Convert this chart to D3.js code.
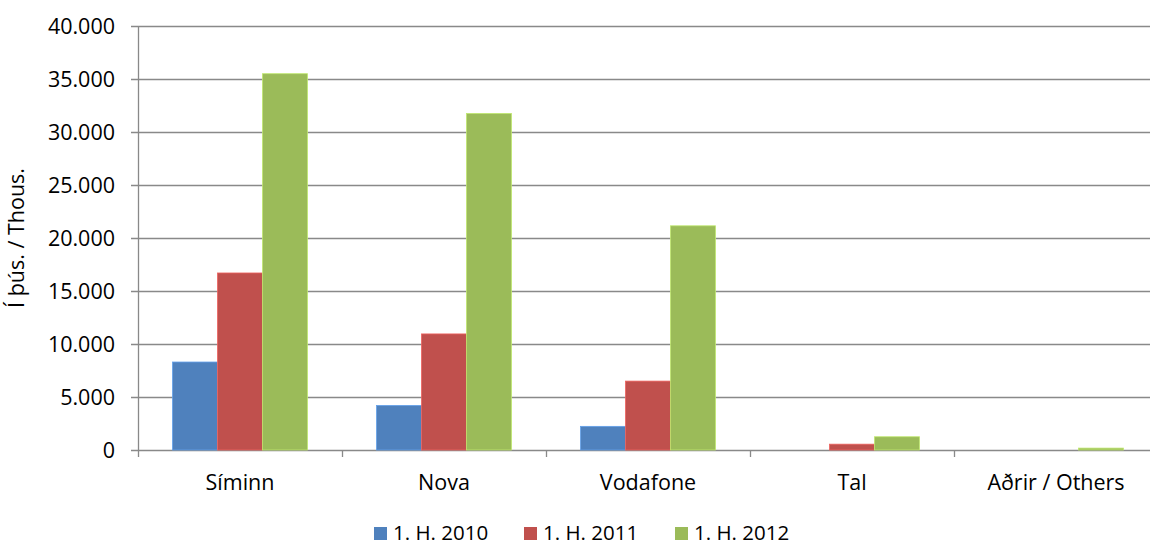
<!DOCTYPE html>
<html>
<head>
<meta charset="utf-8">
<script src="https://cdn.jsdelivr.net/npm/d3@7"></script>
<style>
  body { margin: 0; background: #fff; }
  text { font-family: "Open Sans", "Noto Sans", sans-serif; fill: #000; }
</style>
</head>
<body>
<div id="chart"></div>
<script>
const categories = ['Síminn', 'Nova', 'Vodafone', 'Tal', 'Aðrir / Others'];
const seriesNames = ['1. H. 2010', '1. H. 2011', '1. H. 2012'];
const values2010 = [8300, 4200, 2230, 0, 0];
const values2011 = [16700, 10950, 6500, 550, 0];
const values2012 = [35500, 31750, 21150, 1250, 180];
const yTicks = [0, 5000, 10000, 15000, 20000, 25000, 30000, 35000, 40000];
const colors = ['#4F81BD', '#C0504D', '#9BBB59'];

const W = 1150, H = 546;
const margins = {left: 138, top: 26, right: -8, bottom: 96};
const w = W - margins.left - margins.right;
const h = H - margins.top - margins.bottom;
const fontSize = '21.5px';

const allSeries = [values2010, values2011, values2012];

const svg = d3.select('#chart').append('svg')
  .attr('width', W)
  .attr('height', H);

const g = svg.append('g')
  .attr('transform', 'translate(' + margins.left + ',' + margins.top + ')');

//** scales
const x = d3.scaleBand().domain(categories).range([0, w]).padding(0);
const xs = d3.scaleBand().domain(seriesNames).range([0, x.bandwidth()])
  .paddingInner(0).paddingOuter(0.767);
const y = d3.scaleLinear().domain([0, 40000]).range([h, 0]);

const fmt = d => d3.format(',')(d).replace(/,/g, '.');

//** grid
g.append('g')
  .selectAll('line')
  .data(yTicks)
  .join('line')
  .attr('x1', -7)
  .attr('x2', w)
  .attr('y1', d => y(d) + 0.5)
  .attr('y2', d => y(d) + 0.5)
  .attr('stroke', '#898989')
  .attr('stroke-width', 1.3);

//** y tick labels
g.append('g')
  .selectAll('text')
  .data(yTicks)
  .join('text')
  .attr('x', -23)
  .attr('y', d => y(d))
  .attr('dy', '0.35em')
  .attr('text-anchor', 'end')
  .style('font-size', fontSize)
  .text(fmt);

//** bars
const groups = g.append('g')
  .selectAll('g')
  .data(categories)
  .join('g')
  .attr('transform', d => 'translate(' + x(d) + ',0)');

groups.selectAll('rect')
  .data((c, ci) => seriesNames.map((s, si) => ({s: s, si: si, v: allSeries[si][ci]})))
  .join('rect')
  .attr('x', d => xs(d.s))
  .attr('width', xs.bandwidth())
  .attr('y', d => y(d.v))
  .attr('height', d => h - y(d.v))
  .attr('fill', d => colors[d.si])
  .attr('stroke', d => d3.color(colors[d.si]).brighter(0.6))
  .attr('stroke-width', d => d.v > 0 ? 0.8 : 0);

//** axes lines
g.append('line')
  .attr('x1', 0.5).attr('x2', 0.5)
  .attr('y1', 0).attr('y2', h + 7)
  .attr('stroke', '#898989').attr('stroke-width', 1.3);

g.append('g')
  .selectAll('line')
  .data(categories.slice(1))
  .join('line')
  .attr('x1', d => x(d) + 0.5)
  .attr('x2', d => x(d) + 0.5)
  .attr('y1', h)
  .attr('y2', h + 7)
  .attr('stroke', '#898989').attr('stroke-width', 1.3);

//** category labels
g.append('g')
  .selectAll('text')
  .data(categories)
  .join('text')
  .attr('x', d => x(d) + x.bandwidth() / 2)
  .attr('y', h + 40)
  .attr('text-anchor', 'middle')
  .style('font-size', fontSize)
  .text(d => d);

//** y axis title
svg.append('text')
  .attr('transform', 'translate(24,' + (margins.top + h / 2) + ') rotate(-90)')
  .attr('text-anchor', 'middle')
  .style('font-size', fontSize)
  .text('Í þús. / Thous.');

//** legend
const legendX = [374, 524, 675];
const legend = svg.append('g')
  .selectAll('g')
  .data(seriesNames)
  .join('g')
  .attr('transform', (d, i) => 'translate(' + legendX[i] + ',527)');

legend.append('rect')
  .attr('width', 13).attr('height', 13)
  .attr('fill', (d, i) => colors[i]);

legend.append('text')
  .attr('x', 19)
  .attr('y', 13)
  .style('font-size', '20.5px')
  .text(d => d);
</script>
</body>
</html>
